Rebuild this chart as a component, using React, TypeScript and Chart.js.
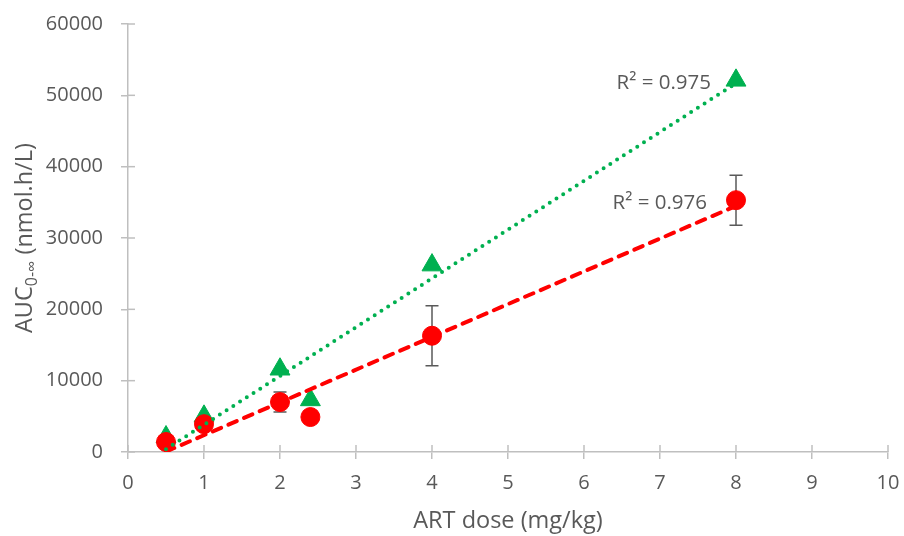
import React, { useEffect, useRef } from "react";
import { Chart, registerables } from "chart.js";

Chart.register(...registerables);

const doses = [0.5, 1, 2, 2.4, 4, 8];
const greenAUC = [2100, 5000, 11600, 7300, 26200, 52100];
const redAUC = [1400, 3900, 7000, 4900, 16300, 35300];
const redErr = [0, 0, 1400, 0, 4200, 3500];
const greenR2 = "R² = 0.975";
const redR2 = "R² = 0.976";
const xTicks = [0, 1, 2, 3, 4, 5, 6, 7, 8, 9, 10];
const yTicks = [0, 10000, 20000, 30000, 40000, 50000, 60000];

const GREEN = "#00b050";
const RED = "#ff0000";
const TEXT = "#595959";
const AXIS = "#bfbfbf";
const FONT = "'Open Sans', Lato, sans-serif";

function fit(xs: number[], ys: number[]) {
  const n = xs.length;
  const mx = xs.reduce((a, b) => a + b, 0) / n;
  const my = ys.reduce((a, b) => a + b, 0) / n;
  let sxy = 0, sxx = 0;
  for (let i = 0; i < n; i++) {
    sxy += (xs[i] - mx) * (ys[i] - my);
    sxx += (xs[i] - mx) * (xs[i] - mx);
  }
  const m = sxy / sxx;
  const b = my - m * mx;
  const x0 = Math.min(...xs), x1 = Math.max(...xs);
  return [{ x: x0, y: m * x0 + b }, { x: x1, y: m * x1 + b }];
}

export default function App() {
  const ref = useRef<HTMLCanvasElement>(null);
  useEffect(() => {
    const greenFit = fit(doses, greenAUC);
    const redFit = fit(doses, redAUC);

    const extras = {
      id: "extras",
      beforeDatasetsDraw(chart: any) {
        const { ctx, scales } = chart;
        const xs = scales.x, ys = scales.y;
        ctx.save();
        ctx.strokeStyle = AXIS;
        ctx.lineWidth = 1.5;
        yTicks.forEach((t) => {
          const py = ys.getPixelForValue(t);
          ctx.beginPath();
          ctx.moveTo(xs.left, py);
          ctx.lineTo(xs.left + 7, py);
          ctx.stroke();
        });
        xTicks.forEach((t) => {
          const px = xs.getPixelForValue(t);
          ctx.beginPath();
          ctx.moveTo(px, ys.bottom);
          ctx.lineTo(px, ys.bottom - 7);
          ctx.stroke();
        });
        ctx.strokeStyle = TEXT;
        ctx.lineWidth = 1.5;
        doses.forEach((d, i) => {
          const e = redErr[i];
          if (!e) return;
          const px = xs.getPixelForValue(d);
          const top = ys.getPixelForValue(redAUC[i] + e);
          const bot = ys.getPixelForValue(redAUC[i] - e);
          ctx.beginPath();
          ctx.moveTo(px, top);
          ctx.lineTo(px, bot);
          ctx.moveTo(px - 6.5, top);
          ctx.lineTo(px + 6.5, top);
          ctx.moveTo(px - 6.5, bot);
          ctx.lineTo(px + 6.5, bot);
          ctx.stroke();
        });
        ctx.restore();
      },
      afterDraw(chart: any) {
        const { ctx, scales } = chart;
        const xs = scales.x, ys = scales.y;
        ctx.save();
        ctx.fillStyle = TEXT;
        ctx.font = `20.5px ${FONT}`;
        ctx.textAlign = "right";
        ctx.textBaseline = "middle";
        const gx = xs.getPixelForValue(greenFit[1].x);
        ctx.fillText(greenR2, gx - 25, ys.getPixelForValue(greenFit[1].y));
        const rx = xs.getPixelForValue(redFit[1].x);
        ctx.fillText(redR2, rx - 29, ys.getPixelForValue(redFit[1].y) - 3);
        ctx.font = `23.5px ${FONT}`;
        ctx.textAlign = "center";
        ctx.fillText("ART dose (mg/kg)", (xs.left + xs.right) / 2, 521);
        ctx.translate(25, (ys.top + ys.bottom) / 2);
        ctx.rotate(-Math.PI / 2);
        ctx.textAlign = "left";
        const big = `23.5px ${FONT}`;
        const small = `16px ${FONT}`;
        ctx.font = big;
        const w1 = ctx.measureText("AUC").width;
        const w3 = ctx.measureText(" (nmol.h/L)").width;
        ctx.font = small;
        const w2 = ctx.measureText("0-∞").width;
        let x = -(w1 + w2 + w3) / 2;
        ctx.font = big;
        ctx.fillText("AUC", x, 0);
        x += w1;
        ctx.font = small;
        ctx.fillText("0-∞", x, 7);
        x += w2;
        ctx.font = big;
        ctx.fillText(" (nmol.h/L)", x, 0);
        ctx.restore();
      },
    };

    const chart = new Chart(ref.current!, {
      type: "scatter",
      data: {
        datasets: [
          {
            label: "green trend",
            data: greenFit,
            showLine: true,
            borderColor: GREEN,
            borderWidth: 4,
            borderDash: [0, 8],
            borderCapStyle: "round",
            pointRadius: 0,
          } as any,
          {
            label: "red trend",
            data: redFit,
            showLine: true,
            borderColor: RED,
            borderWidth: 4,
            borderDash: [9, 8],
            borderCapStyle: "round",
            pointRadius: 0,
          } as any,
          {
            label: "red",
            data: doses.map((d, i) => ({ x: d, y: redAUC[i] })),
            backgroundColor: RED,
            borderColor: RED,
            pointRadius: 9.5,
            pointStyle: "circle",
          },
          {
            label: "green",
            data: doses.map((d, i) => ({ x: d, y: greenAUC[i] })),
            backgroundColor: GREEN,
            borderColor: GREEN,
            pointRadius: 11.5,
            pointStyle: "triangle",
          },
        ],
      },
      options: {
        animation: false,
        responsive: false,
        maintainAspectRatio: false,
        layout: { padding: 0 },
        plugins: { legend: { display: false }, tooltip: { enabled: false } },
        scales: {
          x: {
            type: "linear",
            min: 0,
            max: 10,
            afterFit: (s: any) => {
              s.height = 84;
              s.paddingRight = 16;
              s.paddingLeft = 0;
            },
            ticks: {
              stepSize: 1,
              color: TEXT,
              font: { family: FONT, size: 20 },
              padding: 12,
              callback: (v: any) => (xTicks.includes(v) ? String(v) : ""),
            },
            grid: { drawOnChartArea: false, drawTicks: true, tickLength: 7, color: AXIS, lineWidth: 1.5 },
            border: { color: AXIS, width: 1.5 },
          },
          y: {
            type: "linear",
            min: 0,
            max: 60000,
            afterFit: (s: any) => {
              s.width = 128;
              s.paddingTop = 24;
              s.paddingBottom = 0;
            },
            ticks: {
              stepSize: 10000,
              color: TEXT,
              font: { family: FONT, size: 20 },
              padding: 18,
              callback: (v: any) => (yTicks.includes(v) ? String(v) : ""),
            },
            grid: { drawOnChartArea: false, drawTicks: true, tickLength: 7, color: AXIS, lineWidth: 1.5 },
            border: { color: AXIS, width: 1.5 },
          },
        },
      },
      plugins: [extras],
    });
    return () => chart.destroy();
  }, []);
  return (
    <div style={{ position: "fixed", left: 0, top: 0, width: 904, height: 536, background: "#fff" }}>
      <canvas ref={ref} width={904} height={536} style={{ width: 904, height: 536 }} />
    </div>
  );
}
